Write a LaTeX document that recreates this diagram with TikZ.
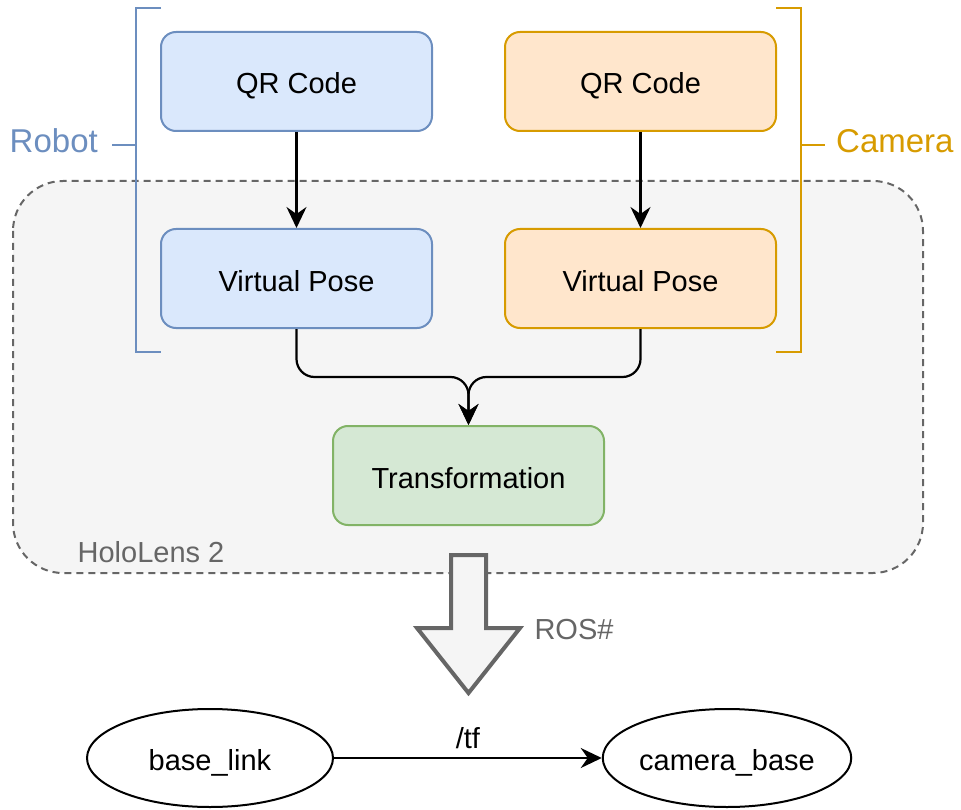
\documentclass[tikz,border=0pt]{standalone}
\usepackage{fontspec}
\setmainfont{Liberation Sans}
\usetikzlibrary{arrows.meta,shapes.geometric}
\definecolor{bfill}{HTML}{DAE8FC}
\definecolor{bline}{HTML}{6C8EBF}
\definecolor{ofill}{HTML}{FFE6CC}
\definecolor{oline}{HTML}{D79B00}
\definecolor{gfill}{HTML}{D5E8D4}
\definecolor{gline}{HTML}{82B366}
\definecolor{cfill}{HTML}{F5F5F5}
\definecolor{cline}{HTML}{666666}
\tikzset{
  box/.style={draw, rounded corners=15pt, line width=2pt, minimum width=271pt, minimum height=99pt, inner sep=0pt, text height=25pt, text depth=0pt, font=\fontsize{29}{34}\selectfont},
  bluebox/.style={box, fill=bfill, draw=bline},
  orangebox/.style={box, fill=ofill, draw=oline},
  greenbox/.style={box, fill=gfill, draw=gline},
  conn/.style={line width=2.2pt, -{Stealth[length=21pt, width=20pt, inset=7pt]}},
  oval/.style={draw, ellipse, line width=2pt, minimum width=246pt, minimum height=98pt, inner sep=0pt, text height=24pt, text depth=0pt, font=\fontsize{29}{34}\selectfont},
  txt/.style={inner sep=0pt, font=\fontsize{29}{34}\selectfont},
  bigtxt/.style={inner sep=0pt, font=\fontsize{33}{38}\selectfont},
}
\begin{document}
\begin{tikzpicture}[x=1pt, y=-1pt]
\useasboundingbox (0,0) rectangle (961,810);
% container
\draw[fill=cfill, draw=cline, line width=2pt, dash pattern=on 7pt off 5pt, rounded corners=50pt] (13,181) rectangle (923,573);
\node[txt, text=cline] (holo) at (151,552) {HoloLens 2};
% brackets
\draw[bline, line width=2pt] (161,8) -- (136,8) -- (136,352) -- (161,352);
\draw[bline, line width=2pt] (136,145) -- (112,145);
\node[bigtxt, text=bline, anchor=east] (robot) at (98,141) {Robot};
\draw[oline, line width=2pt] (776,8) -- (801,8) -- (801,352) -- (776,352);
\draw[oline, line width=2pt] (801,145) -- (825,145);
\node[bigtxt, text=oline, anchor=west] (camera) at (836,141) {Camera};
% boxes
\node[bluebox] (rqr) at (296.5,81.5) {QR Code};
\node[bluebox] (rvp) at (296.5,278.5) {Virtual Pose};
\node[orangebox] (cqr) at (640.5,81.5) {QR Code};
\node[orangebox] (cvp) at (640.5,278.5) {Virtual Pose};
\node[greenbox] (tr) at (468.5,475.5) {Transformation};
% connectors
\draw[conn] (rqr) -- (rvp);
\draw[conn] (cqr) -- (cvp);
\coordinate (m) at (468.5,377);
\draw[conn, rounded corners=18pt] (rvp.south) |- (m) -- (tr.north);
\draw[conn, rounded corners=18pt] (cvp.south) |- (m) -- (tr.north);
% big arrow
\draw[draw=cline, fill=cfill, line width=4pt, line join=miter] (451,555) -- (486,555) -- (486,628) -- (520,628) -- (468.5,693) -- (417,628) -- (451,628) -- cycle;
\node[txt, text=cline] (ros) at (574,630) {ROS\#};
% ellipses
\node[oval] (bl) at (210,758) {base\_link};
\node[oval] (cb) at (727,758) {camera\_base};
\draw[conn] (bl) -- (cb) node[midway, above=8pt, txt, text=black] (tf) {/tf};
\end{tikzpicture}
\end{document}
